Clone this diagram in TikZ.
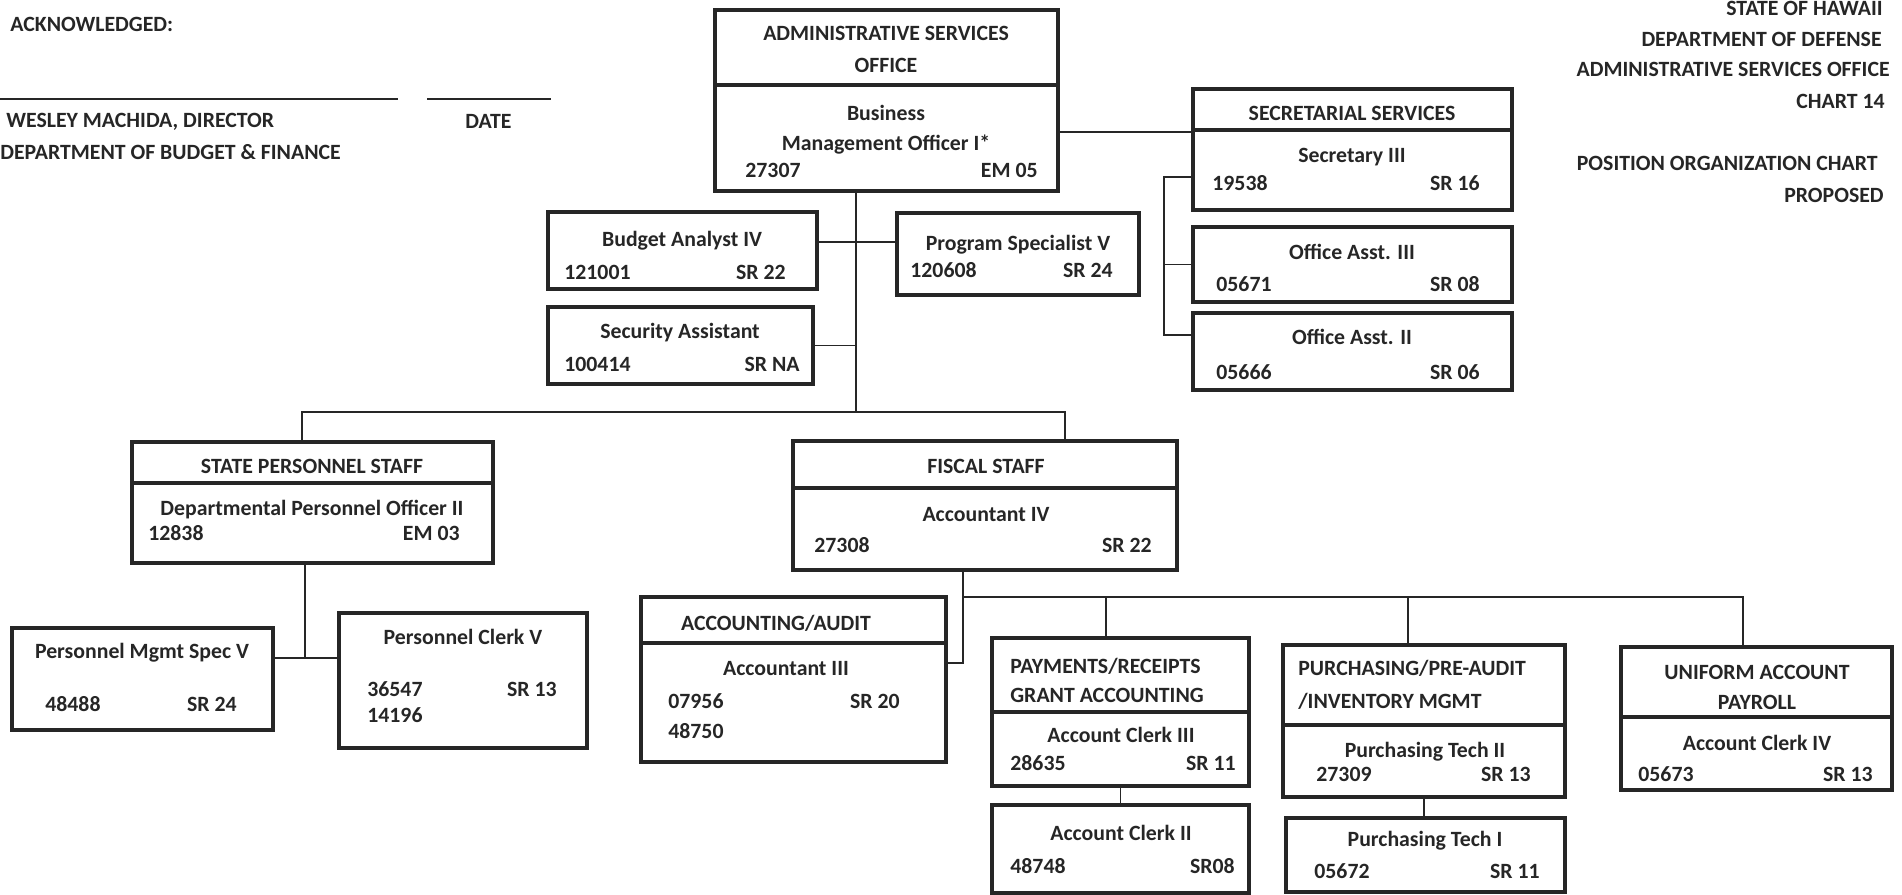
\documentclass[tikz,border=0pt]{standalone}
\usepackage{fontspec}
\setmainfont{Carlito}
\usetikzlibrary{fit}
\begin{document}
\begin{tikzpicture}[x=0.02cm,y=-0.02cm,
  posbox/.style={draw=black!85,line width=2.2pt,inner sep=0pt},
  lbl/.style={inner sep=0pt,text=black!85,font=\fontsize{12.4}{14}\selectfont\bfseries,text height=8pt,text depth=0pt},
  conn/.style={draw=black!85,line width=1.1pt}]
\useasboundingbox (0,0) rectangle (1902,895);

% sign-off block
\node (ack) at (10,24) [lbl,right] {ACKNOWLEDGED:};
\coordinate (sigA) at (0,99);
\coordinate (sigB) at (398,99);
\coordinate (datA) at (427,99);
\coordinate (datB) at (551,99);
\draw[conn] (sigA) -- (sigB);
\draw[conn] (datA) -- (datB);
\node (dir) at (6,120) [lbl,right] {WESLEY MACHIDA, DIRECTOR};
\node (date) at (465,121) [lbl,right] {DATE};
\node (dept) at (0,152) [lbl,right] {DEPARTMENT OF BUDGET \& FINANCE};

% chart title
\node (ttA) at (1883,8) [lbl,left] {STATE OF HAWAII};
\node (ttB) at (1882,39) [lbl,left] {DEPARTMENT OF DEFENSE};
\node (ttC) at (1890,69) [lbl,left] {ADMINISTRATIVE SERVICES OFFICE};
\node (ttD) at (1885,101) [lbl,left] {CHART 14};
\node (ttE) at (1878,163) [lbl,left] {POSITION ORGANIZATION CHART};
\node (ttF) at (1884,195) [lbl,left] {PROPOSED};

% boxes
\node[posbox,fit={(715,10) (1058,85)}] (admhead) {};
\node[posbox,fit={(715,85) (1058,191)}] (admbody) {};
\node[posbox,fit={(1193,89) (1512,130)}] (sechead) {};
\node[posbox,fit={(1193,130) (1512,210)}] (secbody) {};
\node[posbox,fit={(1193,227) (1512,302)}] (oa3) {};
\node[posbox,fit={(1193,313) (1512,390)}] (oa2) {};
\node[posbox,fit={(548,212) (817,289)}] (budget) {};
\node[posbox,fit={(897,213) (1139,295)}] (program) {};
\node[posbox,fit={(548,307) (813,384)}] (security) {};
\node[posbox,fit={(132,442) (493,483)}] (sphead) {};
\node[posbox,fit={(132,483) (493,563)}] (spbody) {};
\node[posbox,fit={(12,628) (273,730)}] (pms) {};
\node[posbox,fit={(339,613) (587,748)}] (pclerk) {};
\node[posbox,fit={(793,441) (1177,488)}] (fshead) {};
\node[posbox,fit={(793,488) (1177,570)}] (fsbody) {};
\node[posbox,fit={(641,597) (946,643)}] (acchead) {};
\node[posbox,fit={(641,643) (946,762)}] (accbody) {};
\node[posbox,fit={(992,638) (1249,712)}] (payhead) {};
\node[posbox,fit={(992,712) (1249,786)}] (paybody) {};
\node[posbox,fit={(992,805) (1249,893)}] (clerk2) {};
\node[posbox,fit={(1283,645) (1565,725)}] (purhead) {};
\node[posbox,fit={(1283,725) (1565,797)}] (purbody) {};
\node[posbox,fit={(1286,818) (1565,892)}] (tech1) {};
\node[posbox,fit={(1621,647) (1892,717)}] (unihead) {};
\node[posbox,fit={(1621,717) (1892,790)}] (unibody) {};

% box texts
\node (adm1) at (886,33) [lbl] {ADMINISTRATIVE SERVICES};
\node (adm2) at (886,65) [lbl] {OFFICE};
\node (adm3) at (886,113) [lbl] {Business};
\node (adm4) at (886,143) [lbl] {Management Officer I*};
\node (adm5) at (745,170) [lbl,right] {27307};
\node (adm6) at (1038,170) [lbl,left] {EM 05};

\node (sec1) at (1352,113) [lbl] {SECRETARIAL SERVICES};
\node (sec2) at (1352,155) [lbl] {Secretary III};
\node (sec3) at (1212,183) [lbl,right] {19538};
\node (sec4) at (1480,183) [lbl,left] {SR 16};
\node (oaA1) at (1352,252) [lbl] {Office Asst. III};
\node (oaA2) at (1216,284) [lbl,right] {05671};
\node (oaA3) at (1480,284) [lbl,left] {SR 08};
\node (oaB1) at (1352,337) [lbl] {Office Asst. II};
\node (oaB2) at (1216,372) [lbl,right] {05666};
\node (oaB3) at (1480,372) [lbl,left] {SR 06};

\node (bud1) at (682,239) [lbl] {Budget Analyst IV};
\node (bud2) at (564,272) [lbl,right] {121001};
\node (bud3) at (786,272) [lbl,left] {SR 22};
\node (sca1) at (680,331) [lbl] {Security Assistant};
\node (sca2) at (564,364) [lbl,right] {100414};
\node (sca3) at (800,364) [lbl,left] {SR NA};
\node (prg1) at (1018,243) [lbl] {Program Specialist V};
\node (prg2) at (910,270) [lbl,right] {120608};
\node (prg3) at (1113,270) [lbl,left] {SR 24};

\node (sps1) at (312,466) [lbl] {STATE PERSONNEL STAFF};
\node (sps2) at (312,508) [lbl] {Departmental Personnel Officer II};
\node (sps3) at (148,533) [lbl,right] {12838};
\node (sps4) at (460,533) [lbl,left] {EM 03};
\node (pms1) at (142,651) [lbl] {Personnel Mgmt Spec V};
\node (pms2) at (45,704) [lbl,right] {48488};
\node (pms3) at (237,704) [lbl,left] {SR 24};
\node (pcl1) at (463,637) [lbl] {Personnel Clerk V};
\node (pcl2) at (367,689) [lbl,right] {36547};
\node (pcl3) at (367,715) [lbl,right] {14196};
\node (pcl4) at (557,689) [lbl,left] {SR 13};

\node (fis1) at (986,466) [lbl] {FISCAL STAFF};
\node (fis2) at (986,514) [lbl] {Accountant IV};
\node (fis3) at (814,545) [lbl,right] {27308};
\node (fis4) at (1152,545) [lbl,left] {SR 22};

\node (acc1) at (776,623) [lbl] {ACCOUNTING/AUDIT};
\node (acc2) at (786,668) [lbl] {Accountant III};
\node (acc3) at (668,701) [lbl,right] {07956};
\node (acc4) at (900,701) [lbl,left] {SR 20};
\node (acc5) at (668,731) [lbl,right] {48750};

\node (pay1) at (1010,666) [lbl,right] {PAYMENTS/RECEIPTS};
\node (pay2) at (1010,695) [lbl,right] {GRANT ACCOUNTING};
\node (pay3) at (1121,735) [lbl] {Account Clerk III};
\node (pay4) at (1010,763) [lbl,right] {28635};
\node (pay5) at (1236,763) [lbl,left] {SR 11};
\node (ck21) at (1121,833) [lbl] {Account Clerk II};
\node (ck22) at (1010,866) [lbl,right] {48748};
\node (ck23) at (1235,866) [lbl,left] {SR08};

\node (pur1) at (1298,668) [lbl,right] {PURCHASING/PRE-AUDIT};
\node (pur2) at (1298,701) [lbl,right] {/INVENTORY MGMT};
\node (pur3) at (1425,750) [lbl] {Purchasing Tech II};
\node (pur4) at (1316,774) [lbl,right] {27309};
\node (pur5) at (1531,774) [lbl,left] {SR 13};
\node (te11) at (1425,839) [lbl] {Purchasing Tech I};
\node (te12) at (1314,871) [lbl,right] {05672};
\node (te13) at (1540,871) [lbl,left] {SR 11};

\node (uni1) at (1757,672) [lbl] {UNIFORM ACCOUNT};
\node (uni2) at (1757,702) [lbl] {PAYROLL};
\node (uni3) at (1757,743) [lbl] {Account Clerk IV};
\node (uni4) at (1638,774) [lbl,right] {05673};
\node (uni5) at (1873,774) [lbl,left] {SR 13};

% connectors
\coordinate (tk) at (856,412);
\coordinate (tl) at (302,412);
\coordinate (tr) at (1065,412);
\coordinate (bp) at (856,242);
\draw[conn] (admbody.south -| tk) -- (tk);
\draw[conn] (tl |- sphead.north) -- (tl) -- (tr) -- (tr |- fshead.north);
\draw[conn] (bp -| budget.east) -- (bp -| program.west);
\draw[conn] (security.east) -- (security.east -| tk);
\draw[conn] (sechead.south west -| admbody.east) -- (sechead.south west);

\coordinate (sb1) at (1164,177);
\coordinate (sb3) at (1164,335);
\draw[conn] (sb1 -| secbody.west) -- (sb1) -- (sb3) -- (sb3 -| oa2.west);
\draw[conn] (oa3.west) -- (oa3.west -| sb1);

\coordinate (pj) at (305,658);
\draw[conn] (pj |- spbody.south) -- (pj);
\draw[conn] (pj -| pms.east) -- (pj -| pclerk.west);

\coordinate (fj) at (963,597);
\coordinate (fa) at (963,663);
\coordinate (fp) at (1106,597);
\coordinate (fq) at (1408,597);
\coordinate (fr) at (1743,597);
\draw[conn] (fj |- fsbody.south) -- (fa) -- (fa -| accbody.east);
\draw[conn] (fj) -- (fr) -- (fr |- unihead.north);
\draw[conn] (fp) -- (fp |- payhead.north);
\draw[conn] (fq) -- (fq |- purhead.north);
\draw[conn] (paybody.south) -- (clerk2.north);
\draw[conn] (purbody.south) -- (purbody.south |- tech1.north);
\end{tikzpicture}
\end{document}
